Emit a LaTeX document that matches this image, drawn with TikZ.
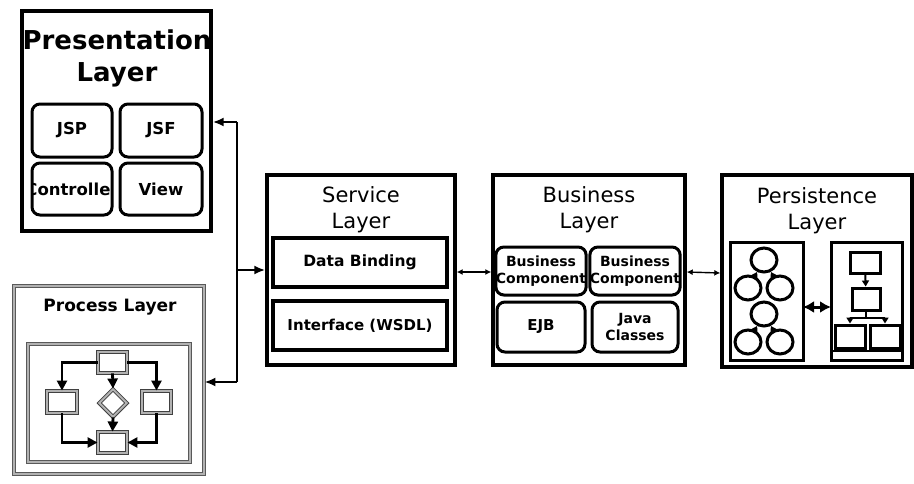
\documentclass[tikz,border=0pt]{standalone}
\usepackage{fontspec}
\setmainfont{DejaVu Sans}
\usetikzlibrary{arrows.meta,shapes.geometric}

\begin{document}
\begin{tikzpicture}[x=1pt,y=-1pt,
  layer/.style={draw, line width=3.4pt, inner sep=0pt},
  part/.style={draw, line width=3pt, rounded corners=8pt, inner sep=0pt, align=center,
    font=\bfseries\fontsize{16.5}{19}\selectfont},
  bizpart/.style={part, font=\bfseries\fontsize{14}{17}\selectfont},
  slab/.style={draw, line width=3.8pt, inner sep=0pt, font=\bfseries\fontsize{15.5}{18}\selectfont},
  title/.style={align=center, font=\fontsize{21}{26}\selectfont},
  grayframe/.style={draw=black!65, double=gray!60, double distance=2.6pt, line width=0.9pt},
  flowbox/.style={draw=black!75, double=gray!60, double distance=2pt, line width=0.9pt, fill=white, inner sep=0pt},
  flow/.style={line width=2.8pt, -{Triangle[length=10pt,width=10pt]}},
  bus/.style={line width=2.2pt},
  bustip/.style={bus, -{Latex[length=11pt,width=9pt]}},
  link/.style={line width=1.4pt, {Latex[length=6pt,width=6pt]}-{Latex[length=6pt,width=6pt]}},
  circ/.style={draw, ellipse, line width=3pt, minimum width=26, minimum height=24, inner sep=0pt},
  sq/.style={draw, line width=3pt, inner sep=0pt},
  tiny/.style={line width=2pt, -{Triangle[length=6pt,width=7pt]}}
]
\useasboundingbox[fill=white] (0,0) rectangle (914,483);

% ---------------- Presentation layer ----------------
\node[layer, minimum width=189, minimum height=220] (pres) at (116.5,121) {};
\node[align=center, font=\bfseries\fontsize{26}{32}\selectfont] (prestitle) at (117,58) {Presentation\\Layer};
\node[part, minimum width=80, minimum height=53] (jsp) at (72,130.5) {JSP};
\node[part, minimum width=82, minimum height=53] (jsf) at (161,130.5) {JSF};
\begin{scope}
  \clip[rounded corners=8pt] (32,163) rectangle (112,215);
  \node[font=\bfseries\fontsize{16.5}{19}\selectfont] (ctrltext) at (72,189) {Controller};
\end{scope}
\node[part, minimum width=80, minimum height=52] (ctrl) at (72,189) {};
\node[part, minimum width=82, minimum height=52] (view) at (161,189) {View};

% ---------------- Process layer ----------------
\node[grayframe, minimum width=190, minimum height=188, inner sep=0pt] (proc) at (109,380) {};
\node[font=\bfseries\fontsize{17}{20}\selectfont] (proctitle) at (110,307) {Process Layer};
\node[grayframe, minimum width=162, minimum height=118, inner sep=0pt] (procin) at (109,403) {};
\node[flowbox, minimum width=29, minimum height=21] (ftop) at (112.5,362.5) {};
\node[flowbox, minimum width=30, minimum height=22] (fleft) at (62,402) {};
\node[flowbox, minimum width=29, minimum height=22] (fright) at (156.5,402) {};
\node[flowbox, diamond, minimum width=28, minimum height=28] (fdia) at (113,403) {};
\node[flowbox, minimum width=29, minimum height=21] (fbot) at (112.5,442.5) {};
\draw[flow] (ftop.west) -| (fleft.north);
\draw[flow] (ftop.east) -| (fright.north);
\draw[flow] (ftop.south) -- (fdia.north);
\draw[flow] (fdia.south) -- (fbot.north);
\draw[flow] (fleft.south) |- (fbot.west);
\draw[flow] (fright.south) |- (fbot.east);

% ---------------- Service layer ----------------
\node[layer, minimum width=188, minimum height=190] (svc) at (361,270) {};
\node[title] (svctitle) at (361,210) {Service\\Layer};
\node[slab, minimum width=174, minimum height=49] (bind) at (360,262.5) {Data Binding};
\node[slab, minimum width=174, minimum height=49, font=\bfseries\fontsize{15}{18}\selectfont] (wsdl) at (360,325.5) {Interface (WSDL)};

% ---------------- Business layer ----------------
\node[layer, minimum width=192, minimum height=190] (biz) at (589,270) {};
\node[title] (biztitle) at (589,210) {Business\\Layer};
\node[bizpart, minimum width=88, minimum height=48] (bc1) at (541,271) {Business\\Component};
\node[bizpart, minimum width=86, minimum height=48] (bc2) at (635,271) {Business\\Component};
\node[bizpart, minimum width=88, minimum height=50, font=\bfseries\fontsize{15}{18}\selectfont] (ejb) at (541,327) {EJB};
\node[bizpart, minimum width=86, minimum height=50] (java) at (635,327) {Java\\Classes};

% ---------------- Persistence layer ----------------
\node[layer, minimum width=190, minimum height=192] (pers) at (817,271) {};
\node[title] (perstitle) at (817,210.5) {Persistence\\Layer};
\node[sq, minimum width=73, minimum height=118] (pl) at (766.5,301) {};
\node[sq, minimum width=71, minimum height=118] (pr) at (866.5,301) {};
% object graph
\node[circ] (o1) at (764,260) {};
\node[circ] (o2) at (748,288) {};
\node[circ] (o3) at (780,288) {};
\node[circ] (o4) at (764,314) {};
\node[circ] (o5) at (748,342) {};
\node[circ] (o6) at (780,342) {};
\draw[tiny] (o2) -- (o1);
\draw[tiny] (o3) -- (o1);
\draw[tiny] (o5) -- (o4);
\draw[tiny] (o6) -- (o4);
% table hierarchy
\node[sq, minimum width=30, minimum height=21] (t1) at (865,262.5) {};
\node[sq, minimum width=28, minimum height=22] (t2) at (866,299) {};
\node[sq, minimum width=30, minimum height=23] (t3) at (850,336.5) {};
\node[sq, minimum width=30, minimum height=23] (t4) at (885,336.5) {};
\draw[tiny] (t1) -- (t2);
\coordinate (tj) at (866,318);
\draw[line width=2pt] (t2.south) -- (tj);
\draw[tiny] (tj) -| (t3.north);
\draw[tiny] (tj) -| (t4.north);
\coordinate (floorL) at (831,351);
\coordinate (floorR) at (902,351);
\draw[line width=2.4pt] (floorL) -- (floorR);
\coordinate (mapL) at (803,307);
\coordinate (mapR) at (831,307);
\draw[line width=3pt, {Latex[length=11pt,width=12pt]}-{Latex[length=11pt,width=12pt]}] (mapL) -- (mapR);

% ---------------- Connectors ----------------
\coordinate (bt) at (237,122);
\coordinate (bm) at (237,270);
\coordinate (bb) at (237,382);
\draw[bus] (bt) -- (bb);
\draw[bustip] (bt) -- (pres.east |- bt);
\draw[bustip] (bm) -- (svc.west |- bm);
\draw[bustip] (bb) -- (proc.east |- bb);
\draw[link] ([yshift=-2pt]svc.east) -- ([yshift=-2pt]biz.west);
\draw[link] ([yshift=-2pt]biz.east) -- ([yshift=-2pt]pers.west);
\end{tikzpicture}
\end{document}
